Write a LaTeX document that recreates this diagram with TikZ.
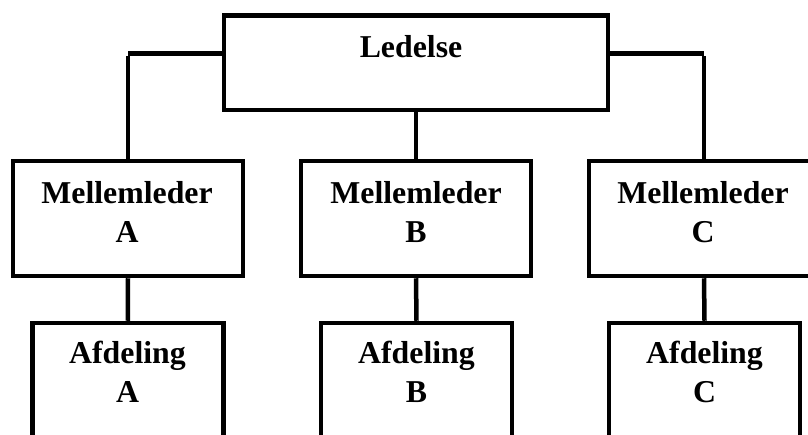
\documentclass[tikz,border=0pt]{standalone}
\usepackage{fontspec}
\setmainfont{Liberation Serif}
\usepackage{tikz}
\usetikzlibrary{scopes}

\begin{document}
\begin{tikzpicture}[
    x=1pt,y=-1pt,
    box/.style={rectangle,draw=black,line width=4.5pt,fill=white,inner sep=0pt},
    chief/.style={box,minimum width=384pt,minimum height=94.5pt},
    mid/.style={box,minimum width=230pt,minimum height=115pt},
    dept/.style={box,minimum width=191pt,minimum height=160pt},
    lbl/.style={anchor=base,align=center,inner sep=0pt,font=\bfseries\fontsize{31.8}{38.5}\selectfont},
    link/.style={draw=black,line width=4.5pt},
]
    \useasboundingbox (0,0) rectangle (808,434);
    \clip (0,0) rectangle (808,434);

    \node[chief] (led) at (416,62.75) {};
    \node[mid] (mA) at (128,218.5) {};
    \node[mid] (mB) at (416,218.5) {};
    \node[mid] (mC) at (704,218.5) {};
    \node[dept] (aA) at (127.75,403) {};
    \node[dept] (aB) at (416.5,403) {};
    \node[dept] (aC) at (704.5,403) {};

    % base = last line
    \node[lbl] (ledT) at (411,57.5) {Ledelse};
    \node[lbl] (mAT) at (127,242) {Mellemleder\\A};
    \node[lbl] (mBT) at (416,242) {Mellemleder\\B};
    \node[lbl] (mCT) at (703,242) {Mellemleder\\C};
    \node[lbl] (aAT) at (127.5,402) {Afdeling\\A};
    \node[lbl] (aBT) at (416.5,402) {Afdeling\\B};
    \node[lbl] (aCT) at (704.5,402) {Afdeling\\C};

    \coordinate (kL) at (128,53.5);
    \coordinate (kR) at (704,53.5);
    {[link]
        \draw (led.west |- kL) -- (kL);
        \draw (led.east |- kR) -- (kR);
        \draw (mA.north) -- ++(0,-103);
        \draw (mC.north) -- ++(0,-103);
        \draw (led.south) -- (mB.north);
        \draw (mA.south) -- (aA.north);
        \draw (mB.south) -- (aB.north);
        \draw (mC.south) -- (aC.north);
    }
\end{tikzpicture}
\end{document}
